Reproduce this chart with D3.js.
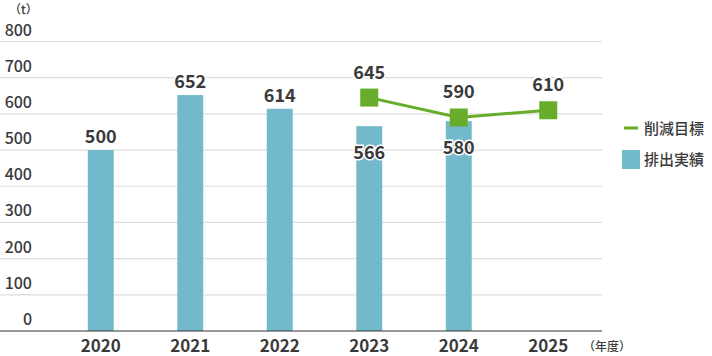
<!DOCTYPE html>
<html><head><meta charset="utf-8">
<script src="https://cdn.jsdelivr.net/npm/d3@7"></script>
<style>body{margin:0;background:#fff}text{font-family:"Noto Sans CJK JP","Noto Sans",sans-serif}</style>
</head><body><svg id="c" width="712" height="356"></svg>
<script>
const years = ["2020","2021","2022","2023","2024","2025"];
const actual = [500,652,614,566,580,null];
const targetYears = ["2023","2024","2025"];
const target = [645,590,610];
const yTicks = [0,100,200,300,400,500,600,700,800];

const svg = d3.select("#c");
const x = d3.scaleBand().domain(years).range([56,593]).paddingInner(0.71).paddingOuter(0.355);
const y = d3.scaleLinear().domain([0,800]).range([331,41.5]);
const barColor = "#72b9cb", lineColor = "#67ad2b", txt = "#3a3a3a";

// gridlines
svg.append("g").selectAll("line").data(yTicks.filter(d=>d>0)).join("line")
  .attr("x1",0).attr("x2",602).attr("y1",d=>y(d)).attr("y2",d=>y(d))
  .attr("stroke","#dcdcdc").attr("stroke-width",1.2);
// tick labels
svg.append("g").selectAll("text").data(yTicks).join("text")
  .attr("x",32).attr("y",d=>y(d)-6).attr("text-anchor","end")
  .attr("font-size",16).attr("font-weight",500).attr("fill",txt).text(d=>d);
svg.append("text").attr("x",9).attr("y",14).attr("font-size",12).attr("font-weight",500).attr("fill",txt).text("（t）");

// bars
const bd = years.map((yr,i)=>({yr,v:actual[i]})).filter(d=>d.v!=null);
svg.append("g").selectAll("rect").data(bd).join("rect")
  .attr("x",d=>x(d.yr)).attr("width",x.bandwidth())
  .attr("y",d=>y(d.v)).attr("height",d=>y(0)-y(d.v)).attr("fill",barColor);

// baseline
svg.append("line").attr("x1",0).attr("x2",602).attr("y1",y(0)).attr("y2",y(0)).attr("stroke","#333").attr("stroke-width",1.2);

// x axis labels
svg.append("g").selectAll("text").data(years).join("text")
  .attr("x",d=>x(d)+x.bandwidth()/2).attr("y",352)
  .attr("text-anchor","middle").attr("font-size",17).attr("font-weight",700).attr("fill",txt).text(d=>d);
svg.append("text").attr("x",583).attr("y",351).attr("font-size",12).attr("font-weight",500).attr("fill",txt).text("（年度）");

// line
const td = targetYears.map((yr,i)=>({yr,v:target[i]}));
const cx = d=>x(d.yr)+x.bandwidth()/2;
svg.append("path").datum(td).attr("fill","none").attr("stroke",lineColor).attr("stroke-width",3)
  .attr("d",d3.line().x(cx).y(d=>y(d.v)));
svg.append("g").selectAll("rect").data(td).join("rect")
  .attr("x",d=>cx(d)-9).attr("y",d=>y(d.v)-9).attr("width",18).attr("height",18).attr("fill",lineColor);

// bar labels
const inside = new Set(targetYears);
svg.append("g").selectAll("text").data(bd).join("text")
  .attr("x",d=>x(d.yr)+x.bandwidth()/2)
  .attr("y",d=>inside.has(d.yr)? y(d.v)+33 : y(d.v)-7)
  .attr("text-anchor","middle").attr("font-size",18).attr("font-weight",700).attr("fill",txt)
  .attr("stroke","#fff").attr("stroke-width",3).attr("paint-order","stroke").text(d=>d.v);
// target labels
svg.append("g").selectAll("text").data(td).join("text")
  .attr("x",cx).attr("y",d=>y(d.v)-19)
  .attr("text-anchor","middle").attr("font-size",18).attr("font-weight",700).attr("fill",txt)
  .attr("stroke","#fff").attr("stroke-width",3).attr("paint-order","stroke").text(d=>d.v);

// legend
svg.append("line").attr("x1",624).attr("x2",638).attr("y1",128).attr("y2",128).attr("stroke",lineColor).attr("stroke-width",3);
svg.append("text").attr("x",644).attr("y",134).attr("font-size",15).attr("font-weight",500).attr("fill",txt).text("削減目標");
svg.append("rect").attr("x",622).attr("y",150).attr("width",18).attr("height",19).attr("fill",barColor);
svg.append("text").attr("x",644).attr("y",165).attr("font-size",15).attr("font-weight",500).attr("fill",txt).text("排出実績");
</script></body></html>
